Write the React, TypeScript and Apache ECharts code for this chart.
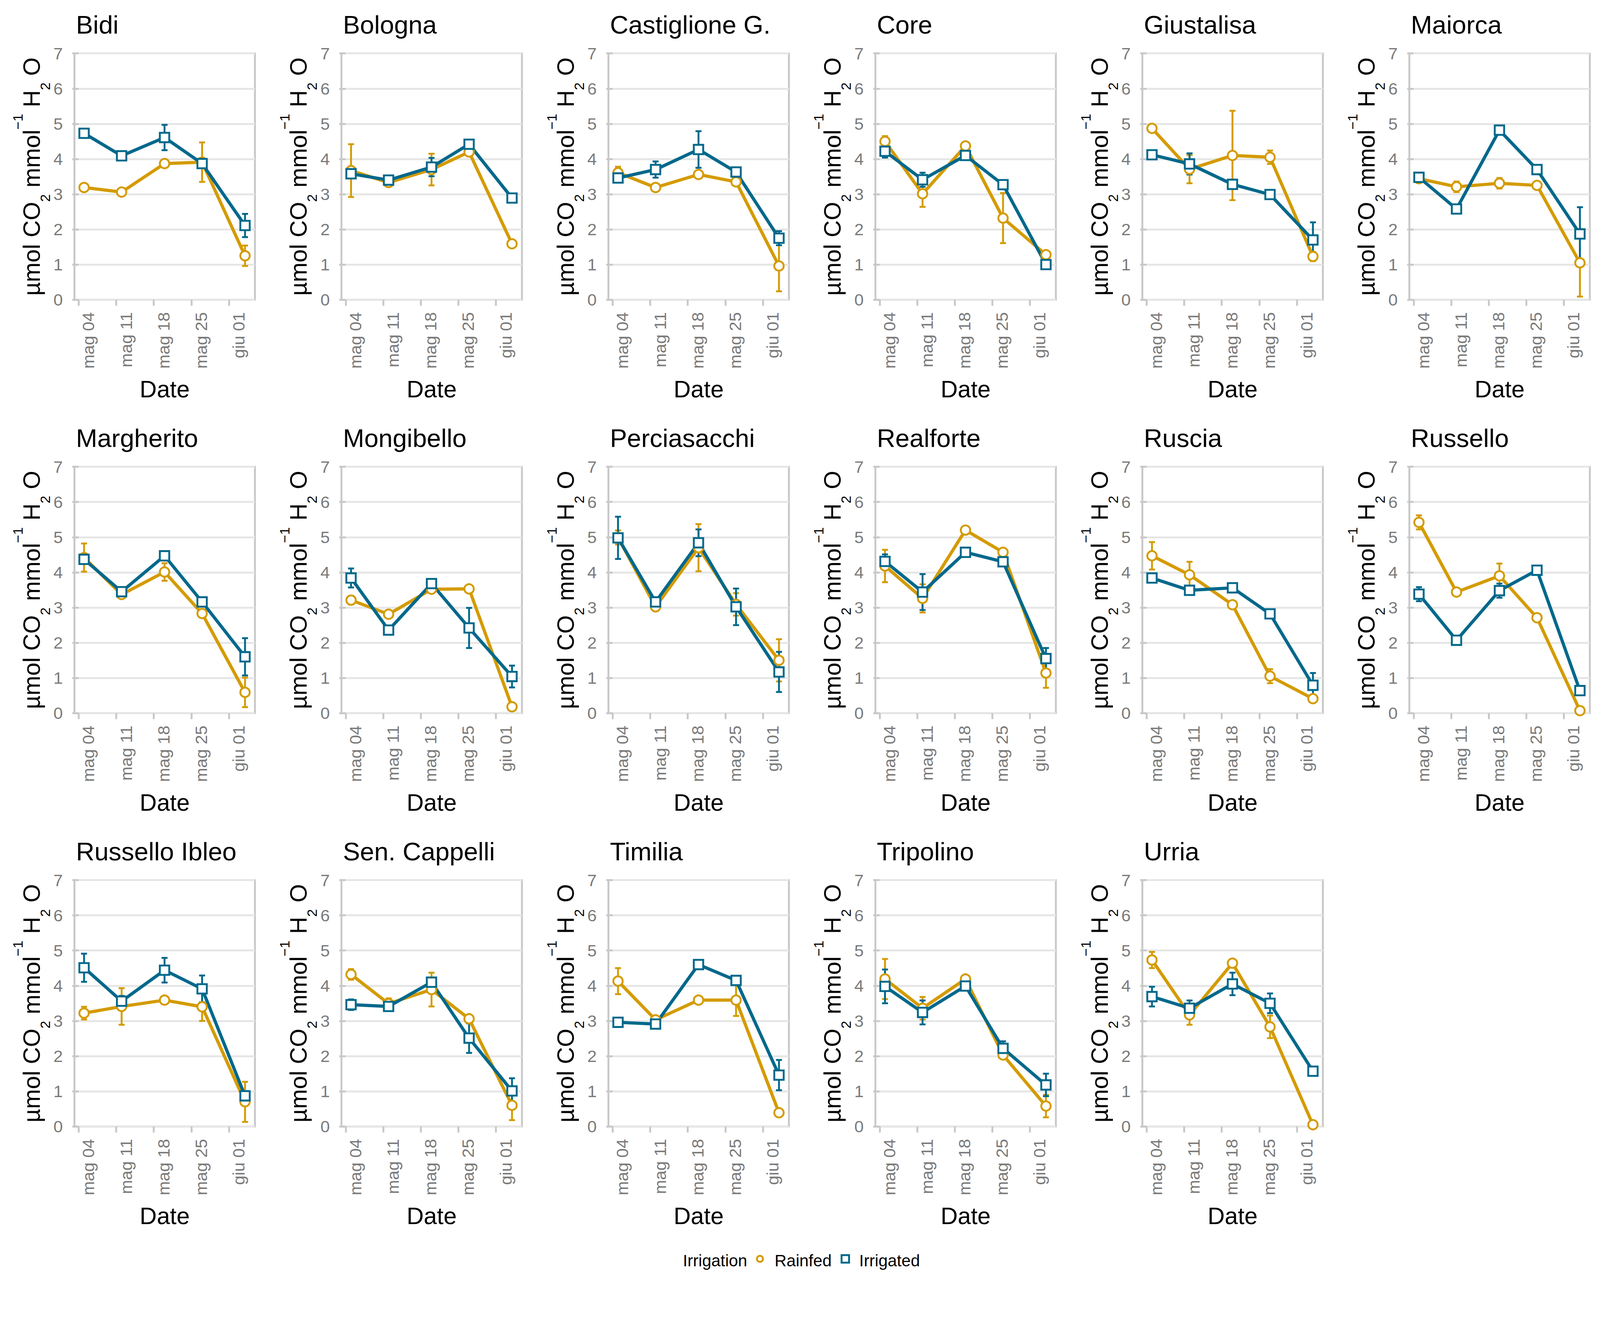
import React, { useEffect, useRef } from 'react';
import * as echarts from 'echarts';

// ---------------- data ----------------
const genotypes = [
  'Bidi', 'Bologna', 'Castiglione G.', 'Core', 'Giustalisa', 'Maiorca',
  'Margherito', 'Mongibello', 'Perciasacchi', 'Realforte', 'Ruscia', 'Russello',
  'Russello Ibleo', 'Sen. Cappelli', 'Timilia', 'Tripolino', 'Urria',
];

// sampling dates, as days after 4 May
const sampleDays = [1, 8, 16, 23, 31];
const tickDays = [0, 7, 14, 21, 28];
const tickLabels = ['mag 04', 'mag 11', 'mag 18', 'mag 25', 'giu 01'];
const groups = ['Rainfed', 'Irrigated'];

const rainfedMean = [
  [3.19, 3.06, 3.87, 3.91, 1.25],
  [3.67, 3.33, 3.70, 4.20, 1.59],
  [3.61, 3.19, 3.56, 3.35, 0.96],
  [4.50, 3.01, 4.37, 2.32, 1.28],
  [4.87, 3.71, 4.10, 4.05, 1.23],
  [3.44, 3.21, 3.31, 3.25, 1.05],
  [4.42, 3.37, 4.01, 2.83, 0.59],
  [3.21, 2.81, 3.52, 3.53, 0.18],
  [4.99, 3.02, 4.70, 3.09, 1.50],
  [4.18, 3.26, 5.20, 4.57, 1.14],
  [4.47, 3.93, 3.08, 1.05, 0.41],
  [5.42, 3.44, 3.90, 2.71, 0.07],
  [3.22, 3.41, 3.59, 3.40, 0.70],
  [4.32, 3.49, 3.89, 3.06, 0.60],
  [4.13, 3.03, 3.59, 3.59, 0.39],
  [4.19, 3.36, 4.19, 2.03, 0.58],
  [4.73, 3.17, 4.64, 2.83, 0.05],
];
const rainfedSE = [
  [0.05, 0.05, 0.06, 0.56, 0.29],
  [0.75, 0.05, 0.45, 0.05, 0.05],
  [0.17, 0.05, 0.08, 0.05, 0.72],
  [0.15, 0.37, 0.10, 0.71, 0.06],
  [0.07, 0.40, 1.27, 0.19, 0.13],
  [0.12, 0.15, 0.15, 0.05, 0.96],
  [0.40, 0.06, 0.25, 0.10, 0.42],
  [0.12, 0.06, 0.07, 0.05, 0.05],
  [0.20, 0.12, 0.67, 0.32, 0.60],
  [0.46, 0.40, 0.05, 0.05, 0.42],
  [0.39, 0.37, 0.05, 0.20, 0.05],
  [0.20, 0.05, 0.35, 0.05, 0.04],
  [0.18, 0.52, 0.05, 0.40, 0.57],
  [0.15, 0.15, 0.48, 0.05, 0.42],
  [0.37, 0.05, 0.05, 0.45, 0.04],
  [0.57, 0.32, 0.05, 0.06, 0.32],
  [0.23, 0.28, 0.05, 0.32, 0.03],
];
const irrigatedMean = [
  [4.73, 4.09, 4.61, 3.87, 2.11],
  [3.58, 3.40, 3.77, 4.42, 2.89],
  [3.46, 3.70, 4.27, 3.63, 1.75],
  [4.22, 3.41, 4.10, 3.27, 1.00],
  [4.12, 3.86, 3.28, 2.99, 1.70],
  [3.48, 2.58, 4.82, 3.70, 1.87],
  [4.37, 3.45, 4.47, 3.16, 1.60],
  [3.84, 2.36, 3.68, 2.42, 1.04],
  [4.98, 3.16, 4.84, 3.02, 1.17],
  [4.31, 3.44, 4.57, 4.30, 1.55],
  [3.84, 3.49, 3.56, 2.82, 0.79],
  [3.38, 2.07, 3.48, 4.06, 0.64],
  [4.51, 3.56, 4.44, 3.91, 0.87],
  [3.46, 3.41, 4.10, 2.51, 1.01],
  [2.96, 2.91, 4.60, 4.15, 1.46],
  [3.98, 3.24, 3.99, 2.22, 1.18],
  [3.69, 3.36, 4.05, 3.50, 1.57],
];
const irrigatedSE = [
  [0.06, 0.05, 0.36, 0.08, 0.33],
  [0.05, 0.08, 0.26, 0.05, 0.05],
  [0.05, 0.23, 0.52, 0.08, 0.20],
  [0.18, 0.20, 0.08, 0.08, 0.05],
  [0.06, 0.30, 0.10, 0.10, 0.50],
  [0.10, 0.05, 0.05, 0.05, 0.76],
  [0.08, 0.10, 0.08, 0.10, 0.53],
  [0.27, 0.05, 0.08, 0.57, 0.31],
  [0.60, 0.06, 0.38, 0.52, 0.57],
  [0.20, 0.51, 0.08, 0.10, 0.30],
  [0.06, 0.12, 0.06, 0.05, 0.35],
  [0.20, 0.05, 0.20, 0.10, 0.05],
  [0.40, 0.15, 0.35, 0.38, 0.05],
  [0.15, 0.12, 0.08, 0.42, 0.36],
  [0.05, 0.05, 0.05, 0.05, 0.43],
  [0.48, 0.34, 0.05, 0.20, 0.32],
  [0.28, 0.22, 0.32, 0.28, 0.05],
];

// ---------------- styling ----------------
const W = 4255;
const H = 3404;
const FONT = 'Liberation Sans, Arial, Helvetica, sans-serif';
const ORANGE = '#D49B00';
const BLUE = '#00688B';
const TICK_GREY = '#7a7a7a';
const BORDER = '#c8c8c8';
const GRIDLINE = '#e6e6e6';

const PLOT_L0 = 198;
const COL_PITCH = 710;
const PLOT_T0 = 142;
const ROW_PITCH = 1099;
const PLOT_W = 480;
const PLOT_H = 655;
const X_MIN = -0.79;
const X_MAX = 32.85;

function buildOption(s: number) {
  const k = (v: number) => v * s;
  const groupStyle = [
    { color: ORANGE, symbol: 'circle', size: k(25) },
    { color: BLUE, symbol: 'rect', size: k(25) },
  ];
  const yName = '{n|µmol CO}{sub|2}{sp| }{n|mmol}{sup|−1}{sp| }{n|H}{sub|2}{sp| }{n|O}';
  const yRich = {
    n: { fontSize: k(63), lineHeight: k(110), color: '#000', fontFamily: FONT },
    sp: { fontSize: k(63), lineHeight: k(110), color: '#000', fontFamily: FONT },
    sub: { fontSize: k(37), lineHeight: k(59), verticalAlign: 'bottom', color: '#000', fontFamily: FONT },
    sup: { fontSize: k(37), lineHeight: k(60), verticalAlign: 'top', color: '#000', fontFamily: FONT },
  };

  const grid: any[] = [];
  const xAxis: any[] = [];
  const yAxis: any[] = [];
  const series: any[] = [];
  const graphic: any[] = [];

  genotypes.forEach((name, i) => {
    const r = Math.floor(i / 6);
    const c = i % 6;
    const left = PLOT_L0 + COL_PITCH * c;
    const top = PLOT_T0 + ROW_PITCH * r;

    grid.push({
      left: k(left), top: k(top), width: k(PLOT_W), height: k(PLOT_H),
      show: true, borderColor: BORDER, borderWidth: k(5), backgroundColor: '#fff',
      containLabel: false, outerBoundsMode: 'none',
    });

    xAxis.push({
      type: 'value', gridIndex: i, min: X_MIN, max: X_MAX,
      name: 'Date', nameLocation: 'middle', nameGap: k(206), nameMoveOverlap: false,
      nameTextStyle: { fontSize: k(63), lineHeight: k(63), color: '#000', fontFamily: FONT },
      axisLine: { show: false },
      axisTick: { show: true, customValues: tickDays, length: k(16), lineStyle: { color: BORDER, width: k(5) } },
      axisLabel: {
        show: true, customValues: tickDays, rotate: 90, margin: k(33), verticalAlign: 'top',
        fontSize: k(45), lineHeight: k(52), color: TICK_GREY, fontFamily: FONT,
        formatter: (v: number) => {
          const idx = tickDays.indexOf(Math.round(v));
          return idx >= 0 ? tickLabels[idx] : '';
        },
      },
      splitLine: { show: false },
      minorSplitLine: { show: false },
    });

    yAxis.push({
      type: 'value', gridIndex: i, min: 0, max: 7, interval: 1,
      name: yName, nameLocation: 'middle', nameRotate: 90, nameGap: k(59), nameMoveOverlap: false,
      nameTextStyle: { color: '#000', fontFamily: FONT, rich: yRich },
      axisLine: { show: false },
      axisTick: { show: true, length: k(17), lineStyle: { color: BORDER, width: k(5) } },
      axisLabel: {
        show: true, fontSize: k(45), color: TICK_GREY, margin: k(31), fontFamily: FONT,
        padding: [k(10), 0, 0, 0],
      },
      splitLine: { show: true, lineStyle: { color: GRIDLINE, width: k(5) } },
    });

    const means = [rainfedMean[i], irrigatedMean[i]];
    const ses = [rainfedSE[i], irrigatedSE[i]];

    // error bars
    groups.forEach((g, gi) => {
      const col = groupStyle[gi].color;
      series.push({
        type: 'custom', name: g, xAxisIndex: i, yAxisIndex: i, z: 2,
        data: sampleDays.map((d, j) => [d, means[gi][j] - ses[gi][j], means[gi][j] + ses[gi][j]]),
        encode: { x: 0, y: [1, 2] },
        renderItem: (_p: any, api: any) => {
          const x = api.value(0);
          const lo = api.coord([x, api.value(1)]);
          const hi = api.coord([x, api.value(2)]);
          const hw = k(8);
          const style = { stroke: col, lineWidth: k(5), fill: 'none' };
          return {
            type: 'group',
            children: [
              { type: 'line', shape: { x1: hi[0], y1: hi[1], x2: lo[0], y2: lo[1] }, style },
              { type: 'line', shape: { x1: hi[0] - hw, y1: hi[1], x2: hi[0] + hw, y2: hi[1] }, style },
              { type: 'line', shape: { x1: lo[0] - hw, y1: lo[1], x2: lo[0] + hw, y2: lo[1] }, style },
            ],
          };
        },
      });
    });
    // lines
    groups.forEach((g, gi) => {
      series.push({
        type: 'line', name: g, xAxisIndex: i, yAxisIndex: i, z: 3,
        showSymbol: false, symbol: 'none',
        data: sampleDays.map((d, j) => [d, means[gi][j]]),
        lineStyle: { width: k(8.5), color: groupStyle[gi].color, join: 'round', cap: 'butt' },
        itemStyle: { color: groupStyle[gi].color },
      });
    });
    // points
    groups.forEach((g, gi) => {
      series.push({
        type: 'scatter', name: g, xAxisIndex: i, yAxisIndex: i, z: 4,
        symbol: groupStyle[gi].symbol, symbolSize: groupStyle[gi].size,
        data: sampleDays.map((d, j) => [d, means[gi][j]]),
        itemStyle: { color: '#fff', borderColor: groupStyle[gi].color, borderWidth: k(5), opacity: 1 },
      });
    });

    graphic.push({
      type: 'text', x: k(left + 4), y: k(66 + ROW_PITCH * r),
      style: { text: name, fontSize: k(68), fill: '#000', fontFamily: FONT, verticalAlign: 'middle', align: 'left' },
    });
  });

  // legend
  const LY = 3352;
  const txt = (x: number, t: string) => ({
    type: 'text', x: k(x), y: k(LY),
    style: { text: t, fontSize: k(44), fill: '#000', fontFamily: FONT, verticalAlign: 'middle', align: 'left' },
  });
  graphic.push(
    txt(1816, 'Irrigation'),
    { type: 'circle', shape: { cx: k(2021), cy: k(LY - 5), r: k(8) }, style: { fill: '#fff', stroke: ORANGE, lineWidth: k(5) } },
    txt(2060, 'Rainfed'),
    { type: 'rect', shape: { x: k(2238), y: k(LY - 15), width: k(20), height: k(20) }, style: { fill: '#fff', stroke: BLUE, lineWidth: k(5) } },
    txt(2285, 'Irrigated'),
  );

  return {
    animation: false,
    backgroundColor: '#fff',
    textStyle: { fontFamily: FONT },
    grid, xAxis, yAxis, series, graphic,
  };
}

export default function App() {
  const ref = useRef<HTMLDivElement>(null);
  useEffect(() => {
    const el = ref.current;
    if (!el) return;
    const vw = window.innerWidth || W;
    const vh = window.innerHeight || H;
    const s = Math.min(vw / W, vh / H, 1);
    el.style.width = `${W * s}px`;
    el.style.height = `${H * s}px`;
    const chart = echarts.init(el, undefined, { renderer: 'svg', width: W * s, height: H * s });
    chart.setOption(buildOption(s) as any);
    return () => chart.dispose();
  }, []);
  return (
    <div
      ref={ref}
      style={{ position: 'absolute', left: 0, top: 0, width: W, height: H, background: '#fff', overflow: 'hidden' }}
    />
  );
}
